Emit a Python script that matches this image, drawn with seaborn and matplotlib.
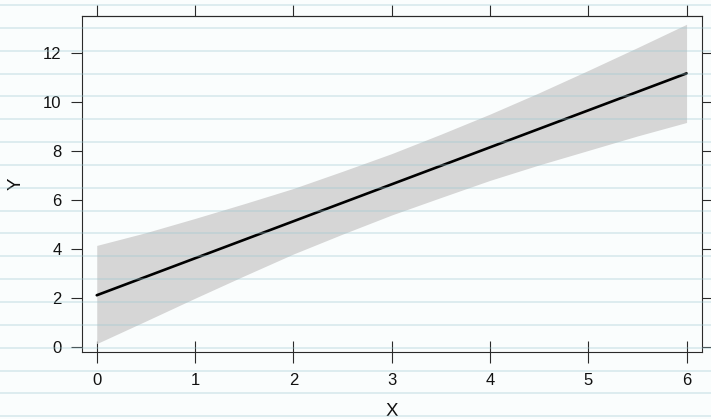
import numpy as np
import pandas as pd
import matplotlib
matplotlib.use("Agg")
import matplotlib.pyplot as plt
from matplotlib.lines import Line2D
import seaborn as sns

# ---- data ----
line_x = [0, 6]
line_y = [2.12, 11.16]

band_x = [0, 0.5, 1, 1.5, 2, 2.5, 3, 3.5, 4, 4.5, 5, 5.5, 6]
band_lower = [0.15, 1.07, 2.00, 2.91, 3.80, 4.61, 5.39, 6.10, 6.80, 7.43, 8.02, 8.61, 9.16]
band_upper = [4.15, 4.67, 5.25, 5.85, 6.47, 7.17, 7.89, 8.68, 9.50, 10.37, 11.28, 12.21, 13.16]

x_ticks = [0, 1, 2, 3, 4, 5, 6]
y_ticks = [0, 2, 4, 6, 8, 10, 12]
x_label = "X"
y_label = "Y"

sns.set_theme(style="ticks")
plt.rcParams["font.family"] = ["Liberation Sans", "DejaVu Sans"]

W, H = 711, 419
fig = plt.figure(figsize=(W / 100, H / 100), dpi=100, facecolor="#fafdfd")
ax = fig.add_axes([82.3 / W, 1 - 351.7 / H, (702 - 82.3) / W, (351.7 - 15.7) / H])
ax.set_facecolor("none")

ax.fill_between(band_x, band_lower, band_upper, color="#d6d6d6", linewidth=0, zorder=1)
df = pd.DataFrame({"x": line_x, "y": line_y})
sns.lineplot(data=df, x="x", y="y", ax=ax, color="black", linewidth=1.9, zorder=3)

ax.set_xlim(-0.147, 6.157)
ax.set_ylim(-0.18, 13.51)
ax.set_xticks(x_ticks)
ax.set_yticks(y_ticks)
ax.set_xticklabels([str(t) for t in x_ticks])
ax.set_yticklabels([str(t) for t in y_ticks])

spine_col = "#2a2a2a"
for s in ax.spines.values():
    s.set_visible(True)
    s.set_color(spine_col)
    s.set_linewidth(0.8)

ax.tick_params(axis="x", direction="inout", length=16.5, width=0.8, color=spine_col,
               pad=7, labelsize=12, labelcolor="#111111", top=False)
ax.tick_params(axis="y", direction="out", length=7.6, width=0.8, color=spine_col,
               pad=7.2, labelsize=12, labelcolor="#111111", right=True, labelright=False)

sec = ax.secondary_xaxis("top")
sec.set_xticks(x_ticks)
sec.tick_params(axis="x", direction="out", length=7.6, width=0.8, color=spine_col, labeltop=False)
sec.spines["top"].set_color(spine_col)
sec.spines["top"].set_linewidth(0.8)

ax.set_xlabel(x_label, fontsize=13.5, color="#111111", labelpad=11)
ax.set_ylabel(y_label, fontsize=13.5, color="#111111", labelpad=13)

# ruled-paper background lines (overlay)
spacing = 22.85
py = 5.0
while py < H:
    fig.add_artist(Line2D([0, 1], [1 - py / H, 1 - py / H], transform=fig.transFigure,
                          color="#99c6d0", lw=1.3, alpha=0.33, zorder=10))
    py += spacing

fig.savefig("out.png", dpi=100, facecolor=fig.get_facecolor())
